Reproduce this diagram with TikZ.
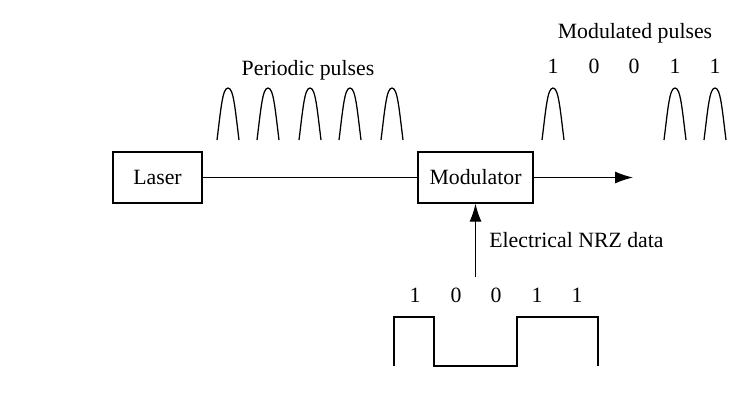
\documentclass[tikz,border=0pt]{standalone}
\usepackage{fontspec}
\setmainfont{Liberation Serif}
\usetikzlibrary{arrows.meta}
\begin{document}
\begin{tikzpicture}[font=\fontsize{15.5}{18}\selectfont, >={Latex[length=4.5mm,width=3mm]}, x=0.25mm, y=-0.25mm,
          line width=0.9pt,
          block/.style={draw, minimum width=#1, minimum height=12.75mm, inner sep=0pt},
          bit/.style={inner sep=0pt, anchor=base},
          pulse/.style={line width=0.9pt}]
        \useasboundingbox (0,0) rectangle (743,407);
        % blocks
        \node[block=22.25mm] (laser) at (157.5,177.5) {Laser};
        \node[block=28.75mm] (mod) at (475.5,177.5) {Modulator};
        \coordinate (out) at (633,177.5);
        \coordinate (data) at (475.5,277);
        \draw (laser) -- (mod);
        \draw[->] (mod) -- (out);
        \draw[->] (data) -- (mod);
        % labels
        \node (periodic) at (308,70) {Periodic pulses};
        \node (modulated) at (635,33) {Modulated pulses};
        \node[anchor=west] (nrz) at (484,240) {Electrical NRZ data};
        % optical pulses
        \foreach \c in {228,268,310,350,392,553,675,715}
          \draw[pulse] (\c-11,140) .. controls (\c-7,108) and (\c-5.5,88) .. (\c,88)
            .. controls (\c+5.5,88) and (\c+7,108) .. (\c+11,140);
        \foreach \x/\b [count=\i] in {553/1,594/0,634/0,675/1,715/1}
          \node[bit] (m\i) at (\x,73) {\b};
        % NRZ waveform
        \foreach \x/\b [count=\i] in {415/1,456/0,496/0,537/1,577/1}
          \node[bit] (e\i) at (\x,302) {\b};
        \draw (394,366) -- (394,317) -- (434,317) -- (434,366) -- (517,366)
          -- (517,317) -- (598,317) -- (598,366);
      \end{tikzpicture}
\end{document}
